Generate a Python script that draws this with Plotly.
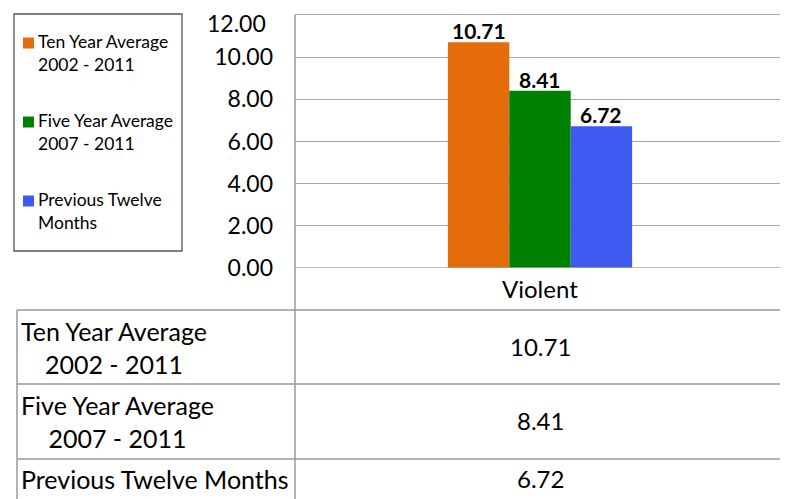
import plotly.graph_objects as go

W, H = 788, 499
OX, OY = 8, 8  # page body margin offset

categories = ["Violent"]
series_names = ["Ten Year Average<br>2002 - 2011",
                "Five Year Average<br>2007 - 2011",
                "Previous Twelve Months"]
legend_labels = ["Ten Year Average<br>2002 - 2011",
                 "Five Year Average<br>2007 - 2011",
                 "Previous Twelve<br>Months"]
ten_year = [10.71]
five_year = [8.41]
prev_twelve = [6.72]
series_values = [ten_year, five_year, prev_twelve]
colors = ["#E46C0A", "#008000", "#3D5AF1"]
y_ticks = [0, 2, 4, 6, 8, 10, 12]

FONT = "Lato"
GRID = "#A6A6A6"
BARGAP = 0.624
Y_TOP = 12.3

PLOT_X0, PLOT_X1 = 295, 785
PLOT_Y0 = 268
PX_PER_UNIT = (268 - 15) / 12.0


def px(x):
    return (x - OX) / W


def py(y):
    return 1 - (y - OY) / H


fig = go.Figure()
for i, (name, vals, col) in enumerate(zip(legend_labels, series_values, colors)):
    fig.add_trace(go.Bar(
        x=categories, y=vals, name=name, marker_color=col,
        marker_line_width=0, showlegend=False,
    ))

shapes = []
annotations = []

# bar value labels (placed just above each bar)
n = len(series_values)
bar_w = (PLOT_X1 - PLOT_X0) * (1 - BARGAP) / n
for i, vals in enumerate(series_values):
    for c, v in zip(categories, vals):
        annotations.append(dict(
            x=c, xref="x", y=v, yref="y", text=f"{v:.2f}", showarrow=False,
            xanchor="center", yanchor="bottom",
            xshift=(i - (n - 1) / 2) * bar_w, yshift=-3,
            font=dict(family=FONT, size=21, color="black", weight="bold")))

line = dict(color="#999999", width=1.5)
# legend box
shapes.append(dict(type="rect", xref="paper", yref="paper",
                   x0=px(14), x1=px(182), y0=py(251), y1=py(14),
                   line=dict(color="#555555", width=1.3)))
# data table grid
shapes.append(dict(type="line", xref="paper", yref="y",
                   x0=px(PLOT_X0), x1=px(PLOT_X1), y0=y_ticks[0], y1=y_ticks[0],
                   line=dict(color=GRID, width=1.5)))
for yy, x0 in [(310, 17), (384, 17), (459, 17)]:
    shapes.append(dict(type="line", xref="paper", yref="paper",
                       x0=px(x0), x1=px(785), y0=py(yy), y1=py(yy), line=line))
shapes.append(dict(type="line", xref="paper", yref="paper",
                   x0=px(295), x1=px(295), y0=py(268), y1=py(510), line=line))
shapes.append(dict(type="line", xref="paper", yref="paper",
                   x0=px(785), x1=px(785), y0=py(268), y1=py(510), line=line))
shapes.append(dict(type="line", xref="paper", yref="paper",
                   x0=px(17), x1=px(17), y0=py(310), y1=py(510), line=line))

# legend (drawn manually to match the original placement)
legend_centers = [43, 122, 201]
for lab, col, yc in zip(legend_labels, colors, legend_centers):
    shapes.append(dict(type="rect", xref="paper", yref="paper",
                       x0=px(23), x1=px(34), y0=py(yc + 5.5), y1=py(yc - 5.5),
                       fillcolor=col, line=dict(width=0)))
    annotations.append(dict(x=px(36), xref="paper", y=py(yc - 14), yref="paper",
                            text=lab, showarrow=False, align="left",
                            font=dict(family=FONT, size=17.5, color="black"),
                            xanchor="left", yanchor="top"))

# top tick label sits a little below its gridline in the original
tick_text = [f"{t:.2f}" for t in y_ticks]
annotations.append(dict(x=px(268), xref="paper", y=y_ticks[-1], yref="y",
                        text=tick_text[-1], showarrow=False, xanchor="right",
                        yanchor="middle", yshift=-8,
                        font=dict(family=FONT, size=23, color="black")))
axis_text = tick_text[:-1] + [""]

tfont = dict(family=FONT, size=24, color="black")
lfont = dict(family=FONT, size=25, color="black")
annotations.append(dict(x=categories[0], xref="x", y=py(288), yref="paper",
                        text=categories[0], showarrow=False, font=tfont,
                        xanchor="center", yanchor="middle"))
row_centers = [347, 421, 479]
for lab, vals, yc in zip(series_names, series_values, row_centers):
    annotations.append(dict(x=px(19), xref="paper", y=py(yc), yref="paper",
                            text=lab, showarrow=False, font=lfont,
                            xanchor="left", yanchor="middle", align="center"))
    annotations.append(dict(x=categories[0], xref="x", y=py(yc - 0.5), yref="paper",
                            text=f"{vals[0]:.2f}", showarrow=False, font=tfont,
                            xanchor="center", yanchor="middle"))

# the y-axis line only runs between the 0 and 12 gridlines
shapes.append(dict(type="line", xref="paper", yref="y",
                   x0=px(PLOT_X0), x1=px(PLOT_X0), y0=y_ticks[0], y1=y_ticks[-1],
                   line=line))

fig.update_layout(
    width=W, height=H,
    margin=dict(l=0, r=0, t=0, b=0),
    paper_bgcolor="white", plot_bgcolor="white",
    barmode="group", bargap=BARGAP, bargroupgap=0,
    font=dict(family=FONT, color="black"),
    xaxis=dict(domain=[px(PLOT_X0), px(PLOT_X1)], range=[-0.5, 0.5],
               showticklabels=False, showgrid=False, showline=False,
               zeroline=False, fixedrange=True, automargin=False),
    yaxis=dict(domain=[py(PLOT_Y0), py(PLOT_Y0 - Y_TOP * PX_PER_UNIT)],
               range=[0, Y_TOP],
               tickvals=y_ticks, ticktext=axis_text,
               tickfont=dict(family=FONT, size=23, color="black"),
               showline=False,
               showgrid=True, gridcolor=GRID, gridwidth=1.3,
               zeroline=False, ticks="", ticklabelstandoff=21,
               automargin=False),
    showlegend=False,
    shapes=shapes, annotations=annotations,
)

fig.write_html("out.html")
